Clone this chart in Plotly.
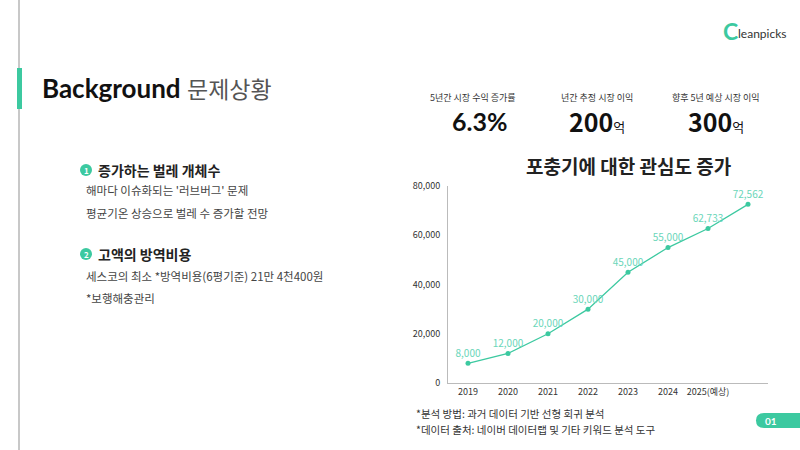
import plotly.graph_objects as go

# ---- data ----
categories = ["2019", "2020", "2021", "2022", "2023", "2024", "2025(예상)", " "]
values = [8000, 12000, 20000, 30000, 45000, 55000, 62733, 72562]
value_labels = ["8,000", "12,000", "20,000", "30,000", "45,000", "55,000", "62,733", "72,562"]
y_ticks = [0, 20000, 40000, 60000, 80000]
y_ticktext = ["0", "20,000", "40,000", "60,000", "80,000"]

stat_titles = ["5년간 시장 수익 증가률", "년간 추정 시장 이익", "향후 5년 예상 시장 이익"]
stat_values = ["6.3%", "200", "300"]
stat_units = ["", "억", "억"]

KR = "Noto Sans CJK KR"
TEAL = "#3cc9a0"
TEAL_LIGHT = "#6ad6b9"

W, H = 800, 450
L, R, T, B = 448, 768, 186, 383


def px(x):
    return (x - L) / (R - L)


def py(y):
    return (B - y) / (B - T)


fig = go.Figure()
fig.add_trace(go.Scatter(
    x=categories, y=values, mode="lines+markers+text",
    line=dict(color=TEAL, width=1.3),
    marker=dict(color=TEAL, size=5),
    text=value_labels, textposition="top center",
    textfont=dict(family=KR, size=10, color=TEAL_LIGHT),
    cliponaxis=False, hoverinfo="skip",
))

fig.update_layout(
    width=W, height=H,
    margin=dict(l=L, r=W - R, t=T, b=H - B),
    paper_bgcolor="white", plot_bgcolor="white",
    showlegend=False,
    xaxis=dict(type="category", range=[-0.5, 7.5], showgrid=False, zeroline=False,
               showline=True, linecolor="#bbbbbb", linewidth=1, ticks="",
               tickfont=dict(family=KR, size=9, color="#333333")),
    yaxis=dict(range=[0, 80000], tickvals=y_ticks, ticktext=y_ticktext,
               showgrid=False, zeroline=False, showline=True, linecolor="#bbbbbb",
               linewidth=1, ticks="", ticklabelstandoff=5,
               tickfont=dict(family=KR, size=9, color="#333333")),
)

shapes = []
# left vertical rule
shapes.append(dict(type="line", xref="paper", yref="paper", x0=px(19), x1=px(19), y0=py(0), y1=py(450),
                   line=dict(color="#c8c8c8", width=2)))
shapes.append(dict(type="line", xref="paper", yref="paper", x0=px(19.5), x1=px(19.5), y0=py(68), y1=py(109),
                   line=dict(color=TEAL, width=5)))
shapes.append(dict(type="circle", xref="paper", yref="paper", x0=px(80), x1=px(92), y0=py(164), y1=py(176),
                   fillcolor=TEAL, line=dict(width=0)))
shapes.append(dict(type="circle", xref="paper", yref="paper", x0=px(80), x1=px(92), y0=py(248), y1=py(260),
                   fillcolor=TEAL, line=dict(width=0)))
# page badge
shapes.append(dict(type="path", xref="paper", yref="paper",
                   path=f"M {px(764)} {py(413)} L {px(800)} {py(413)} L {px(800)} {py(428)} L {px(764)} {py(428)} "
                        f"Q {px(756)} {py(428)} {px(756)} {py(420.5)} Q {px(756)} {py(413)} {px(764)} {py(413)} Z",
                   fillcolor=TEAL, line=dict(width=0)))
fig.update_layout(shapes=shapes)

ann = []


def add(x, y, text, size, color="#222222", xanchor="left", family=KR, bold=False):
    t = f"<b>{text}</b>" if bold else text
    ann.append(dict(xref="paper", yref="paper", x=px(x), y=py(y), text=t, showarrow=False,
                    xanchor=xanchor, yanchor="middle", font=dict(family=family, size=size, color=color)))


# title
add(40, 88, "Background", 26, "#111111", family="Lato", bold=True)
add(185, 88, "문제상황", 23, "#555555")

# logo
add(721, 31, "C", 23, TEAL, family="Lato", bold=True)
add(736, 33, "leanpicks", 12, "#333333", family="Lato")

# stats
centers = [473, 597, 716]
for cx, t, v, u in zip(centers, stat_titles, stat_values, stat_units):
    add(cx, 97, t, 9, "#333333", xanchor="center")
    if u:
        ann.append(dict(xref="paper", yref="paper", x=px(cx), y=py(121), showarrow=False,
                        xanchor="center", yanchor="middle",
                        text=f"<b>{v}</b><span style='font-size:13px'>{u}</span>",
                        font=dict(family=KR, size=25, color="#111111")))
    else:
        add(cx + 6, 121, v, 25, "#111111", xanchor="center", family="Lato", bold=True)

# chart title
add(628, 166, "포충기에 대한 관심도 증가", 19, "#222222", xanchor="center", bold=True)

# left bullets
add(86, 170, "1", 8, "white", xanchor="center", bold=True)
add(96, 170, "증가하는 벌레 개체수", 14, "#222222", bold=True)
add(84, 190, "해마다 이슈화되는 '러브버그' 문제", 11.5, "#444444")
add(84, 213, "평균기온 상승으로 벌레 수 증가할 전망", 11.5, "#444444")
add(86, 254, "2", 8, "white", xanchor="center", bold=True)
add(96, 254, "고액의 방역비용", 14, "#222222", bold=True)
add(84, 276, "세스코의 최소 *방역비용(6평기준) 21만 4천400원", 11.5, "#444444")
add(84, 298, "*보행해충관리", 11.5, "#444444")

# footnotes
add(414, 413, "*분석 방법: 과거 데이터 기반 선형 회귀 분석", 10.5, "#333333")
add(414, 429, "*데이터 출처: 네이버 데이터랩 및 기타 키워드 분석 도구", 10.5, "#333333")

# page number
add(771, 421, "01", 10, "white", xanchor="center", family="Lato", bold=True)

fig.update_layout(annotations=ann)
fig.write_html("out.html")
